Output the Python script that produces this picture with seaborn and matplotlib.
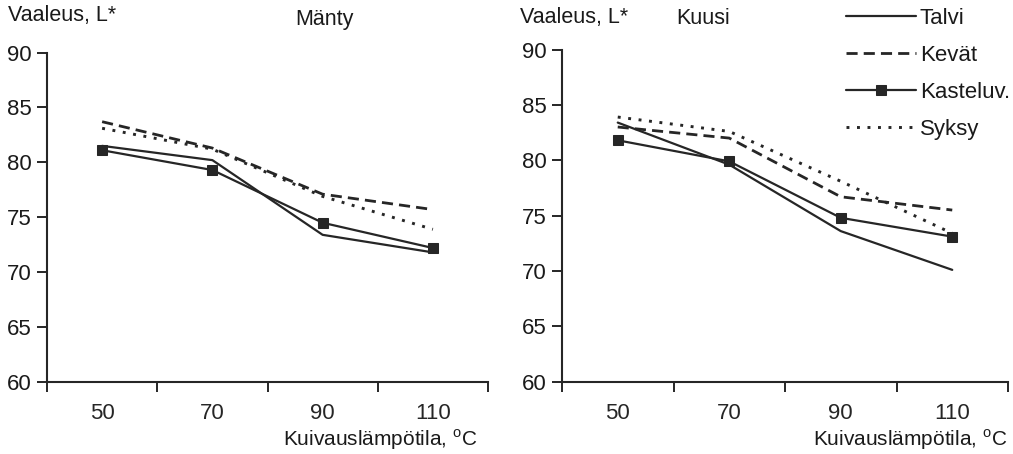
import matplotlib
matplotlib.use("Agg")
import matplotlib.pyplot as plt
import seaborn as sns
import pandas as pd

# Drying temperatures (°C) shown as categories on the x axis
temperatures = ["50", "70", "90", "110"]
series_names = ["Talvi", "Kevät", "Kasteluv.", "Syksy"]

# Lightness L* for pine (Mänty)
manty_talvi = [81.5, 80.2, 73.4, 71.8]
manty_kevat = [83.7, 81.3, 77.1, 75.7]
manty_kasteluv = [81.1, 79.3, 74.5, 72.2]
manty_syksy = [83.1, 81.2, 76.9, 73.9]

# Lightness L* for spruce (Kuusi)
kuusi_talvi = [83.4, 79.6, 73.6, 70.1]
kuusi_kevat = [83.0, 82.0, 76.7, 75.5]
kuusi_kasteluv = [81.8, 79.9, 74.8, 73.1]
kuusi_syksy = [83.9, 82.6, 78.1, 73.4]

y_ticks = [60, 65, 70, 75, 80, 85, 90]

sns.set_theme(style="ticks")
plt.rcParams["font.family"] = ["Liberation Sans", "DejaVu Sans"]
plt.rcParams["mathtext.fontset"] = "custom"
plt.rcParams["mathtext.rm"] = "Liberation Sans"

INK = "#262626"
styles = {
    "Talvi": dict(linestyle="-", linewidth=1.6, marker=None),
    "Kevät": dict(linestyle=(0, (4.0, 2.2)), linewidth=2.0, marker=None),
    "Kasteluv.": dict(linestyle="-", linewidth=1.6, marker="s", markersize=7),
    "Syksy": dict(linestyle=(0, (1.0, 2.6)), linewidth=2.1, marker=None),
}


def long_table(talvi, kevat, kasteluv, syksy):
    rows = []
    for name, vals in zip(series_names, [talvi, kevat, kasteluv, syksy]):
        for i, (t, v) in enumerate(zip(temperatures, vals)):
            rows.append({"pos": i, "temp": t, "L": v, "series": name})
    return pd.DataFrame(rows)


df_manty = long_table(manty_talvi, manty_kevat, manty_kasteluv, manty_syksy)
df_kuusi = long_table(kuusi_talvi, kuusi_kevat, kuusi_kasteluv, kuusi_syksy)

fig = plt.figure(figsize=(10.13, 4.54), dpi=100)
ax1 = fig.add_axes([47 / 1013, 72 / 454, 441 / 1013, 329.5 / 454])
ax2 = fig.add_axes([562 / 1013, 72.3 / 454, 446 / 1013, 332.2 / 454])


def draw_panel(ax, df):
    for name in series_names:
        sub = df[df["series"] == name]
        st = styles[name]
        sns.lineplot(data=sub, x="pos", y="L", ax=ax, color=INK,
                     linestyle=st["linestyle"], linewidth=st["linewidth"],
                     marker=st["marker"], markersize=st.get("markersize", 0),
                     markeredgecolor=INK, markerfacecolor=INK,
                     label=name, legend=False)
    ax.set_xlim(-0.5, len(temperatures) - 0.5)
    ax.set_ylim(60, 90)
    ax.set_yticks(y_ticks)
    ax.set_yticklabels([str(v) for v in y_ticks], fontsize=16)
    # boundary ticks between categories, labels at category centres
    ax.set_xticks([i - 0.5 for i in range(len(temperatures) + 1)])
    ax.set_xticklabels([])
    ax.set_xticks(range(len(temperatures)), minor=True)
    ax.set_xticklabels(temperatures, minor=True, fontsize=16)
    ax.tick_params(axis="x", which="minor", length=0, pad=15)
    ax.tick_params(axis="x", which="major", length=7, width=1.4, color=INK)
    ax.tick_params(axis="y", length=7, width=1.4, color=INK, pad=4)
    ax.tick_params(labelcolor="#1a1a1a")
    for side in ["top", "right"]:
        ax.spines[side].set_visible(False)
    for side in ["left", "bottom"]:
        ax.spines[side].set_linewidth(1.5)
        ax.spines[side].set_color(INK)
    ax.set_xlabel("")
    ax.set_ylabel("")


draw_panel(ax1, df_manty)
draw_panel(ax2, df_kuusi)

txt = dict(color="#1a1a1a", fontsize=15.5)
fig.text(8 / 1013, 1 - 16 / 454, "Vaaleus, L*", ha="left", va="center", **txt)
fig.text(324 / 1013, 1 - 20 / 454, "Mänty", ha="center", va="center", **txt)
fig.text(520 / 1013, 1 - 17 / 454, "Vaaleus, L*", ha="left", va="center", **txt)
fig.text(703 / 1013, 1 - 19 / 454, "Kuusi", ha="center", va="center", **txt)
xl = dict(color="#1a1a1a", fontsize=15)
fig.text(478 / 1013, 1 - 440 / 454, r"Kuivauslämpötila, $^{\mathrm{o}}$C",
         ha="right", va="center", **xl)
fig.text(1008 / 1013, 1 - 440 / 454, r"Kuivauslämpötila, $^{\mathrm{o}}$C",
         ha="right", va="center", **xl)

handles, labels = ax2.get_legend_handles_labels()
leg = fig.legend(handles, labels, loc="upper left",
                 bbox_to_anchor=(837 / 1013, 1 + 1 / 454), frameon=False,
                 fontsize=16, handlelength=3.15, handletextpad=0.18,
                 labelspacing=0.72, borderaxespad=0)
for t in leg.get_texts():
    t.set_color("#1a1a1a")

fig.savefig("out.png", dpi=100)
